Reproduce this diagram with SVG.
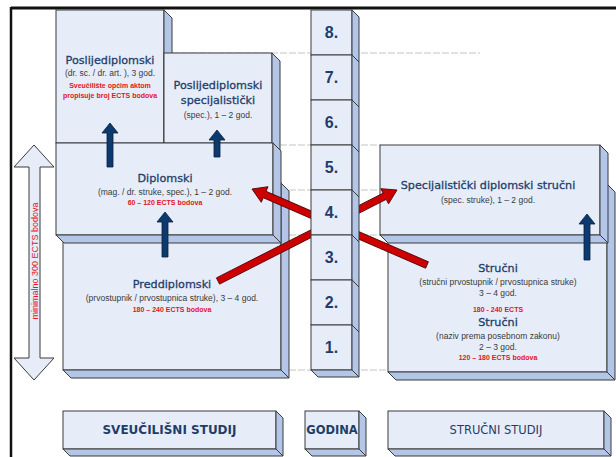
<svg xmlns="http://www.w3.org/2000/svg" width="616" height="457" viewBox="0 0 616 457">
<style>
.face{fill:#e6edf8;stroke:#3a3a3a;stroke-width:1}
.side{fill:#b3c6e7;stroke:#3a3a3a;stroke-width:1}
.grid{stroke:#c4c4c4;stroke-width:1;stroke-dasharray:7 2;fill:none}
.t{font-family:"DejaVu Sans",Verdana,sans-serif;font-size:11.2px;fill:#1f3d6b;stroke:#1f3d6b;stroke-width:0.3;text-anchor:middle}
.s{font-family:"Liberation Sans",Arial,sans-serif;font-size:8.5px;fill:#3a3a3a;text-anchor:middle}
.r{font-family:"Liberation Sans",Arial,sans-serif;font-size:7px;font-weight:bold;fill:#e3141c;text-anchor:middle}
.n{font-family:"Liberation Sans",Arial,sans-serif;font-size:16px;font-weight:bold;fill:#1f3d6b;text-anchor:middle}
.b{font-family:"DejaVu Sans",Verdana,sans-serif;fill:#1f3d6b;text-anchor:middle}
.nav{fill:#0d3a6e;stroke:#061f3d;stroke-width:0.8}
.red{fill:#cc0000;stroke:#4a0000;stroke-width:0.8}
</style>

<g id="frame">
<line x1="11" y1="8" x2="616" y2="8" stroke="#111" stroke-width="3"/>
<line x1="11" y1="7" x2="11" y2="457" stroke="#111" stroke-width="2.5"/>
<line class="grid" x1="172" y1="53" x2="480" y2="53"/>
<line class="grid" x1="280" y1="145" x2="380" y2="145"/>
<line class="grid" x1="289" y1="190" x2="380" y2="190"/>
<line class="grid" x1="289" y1="235" x2="380" y2="235"/>
<line class="grid" x1="289" y1="370" x2="388" y2="370"/>
</g>

<g id="preddiplomski">
<rect class="face" x="63" y="183" width="218" height="187"/>
<polygon class="side" points="281,183 289,191 289,378 281,370"/>
<polygon class="side" points="63,370 281,370 289,378 71,378"/>
<text class="t" x="172" y="288">Preddiplomski</text>
<text class="s" x="172" y="301">(prvostupnik / prvostupnica struke), 3 – 4 god.</text>
<text class="r" x="172" y="312">180 – 240 ECTS bodova</text>
</g>

<g id="strucni">
<rect class="face" x="388" y="184" width="219" height="188"/>
<polygon class="side" points="607,184 615,192 615,380 607,372"/>
<polygon class="side" points="388,372 607,372 615,380 396,380"/>
<text class="t" x="498" y="272">Stručni</text>
<text class="s" x="498" y="285">(stručni prvostupnik / prvostupnica struke)</text>
<text class="s" x="498" y="296">3 – 4 god.</text>
<text class="r" x="498" y="312">180 - 240 ECTS</text>
<text class="t" x="498" y="326">Stručni</text>
<text class="s" x="498" y="339">(naziv prema posebnom zakonu)</text>
<text class="s" x="498" y="350">2 – 3 god.</text>
<text class="r" x="498" y="360">120 – 180 ECTS bodova</text>
</g>

<g id="poslijediplomski">
<rect class="face" x="56" y="10" width="108" height="133"/>
<polygon class="side" points="164,10 172,18 172,151 164,143"/>
<text class="t" x="110" y="64">Poslijediplomski</text>
<text class="s" x="110" y="76">(dr. sc. / dr. art. ), 3 god.</text>
<text class="r" x="110" y="88">Sveučilište općim aktom</text>
<text class="r" x="110" y="98">propisuje broj ECTS bodova</text>
</g>

<g id="specijalisticki">
<rect class="face" x="164" y="53" width="108" height="90"/>
<polygon class="side" points="272,53 280,61 280,151 272,143"/>
<text class="t" x="218" y="89">Poslijediplomski</text>
<text class="t" x="218" y="104">specijalistički</text>
<text class="s" x="218" y="118">(spec.), 1 – 2 god.</text>
</g>

<g id="diplomski">
<rect class="face" x="56" y="143" width="217" height="92"/>
<polygon class="side" points="273,143 281,151 281,243 273,235"/>
<polygon class="side" points="56,235 273,235 281,243 64,243"/>
<text class="t" x="165" y="182">Diplomski</text>
<text class="s" x="165" y="195">(mag. / dr. struke, spec.), 1 – 2 god.</text>
<text class="r" x="165" y="205">60 – 120 ECTS bodova</text>
</g>

<g id="specijalisticki-strucni">
<rect class="face" x="380" y="145" width="220" height="90"/>
<polygon class="side" points="600,145 608,153 608,243 600,235"/>
<polygon class="side" points="380,235 600,235 608,243 388,243"/>
<text class="t" x="488" y="189">Specijalistički diplomski stručni</text>
<text class="s" x="488" y="203">(spec. struke), 1 – 2 god.</text>
</g>

<g id="connectors">
<polygon class="red" transform="translate(218,281) rotate(-26.95)" points="0,-3.5 187,-3.5 187,-8.5 200.8,0 187,8.5 187,3.5 0,3.5"/>
<polygon class="red" transform="translate(427,265) rotate(-156.53)" points="0,-3.5 177,-3.5 177,-8.5 190.8,0 177,8.5 177,3.5 0,3.5"/>
<polygon class="nav" points="110,123 118,133 113,133 113,167 107,167 107,133 102,133"/>
<polygon class="nav" points="217,130 225,140 220,140 220,157 214,157 214,140 209,140"/>
<polygon class="nav" points="165,212 173,222 168,222 168,257 162,257 162,222 157,222"/>
<polygon class="nav" points="587,214 595,224 590,224 590,260 584,260 584,224 579,224"/>
</g>

<g id="godine">
<rect class="face" x="311" y="10" width="41" height="45"/>
<polygon class="side" points="352,10 359,17 359,62 352,55"/>
<rect class="face" x="311" y="55" width="41" height="45"/>
<polygon class="side" points="352,55 359,62 359,107 352,100"/>
<rect class="face" x="311" y="100" width="41" height="45"/>
<polygon class="side" points="352,100 359,107 359,152 352,145"/>
<rect class="face" x="311" y="145" width="41" height="45"/>
<polygon class="side" points="352,145 359,152 359,197 352,190"/>
<rect class="face" x="311" y="190" width="41" height="45"/>
<polygon class="side" points="352,190 359,197 359,242 352,235"/>
<rect class="face" x="311" y="235" width="41" height="45"/>
<polygon class="side" points="352,235 359,242 359,287 352,280"/>
<rect class="face" x="311" y="280" width="41" height="45"/>
<polygon class="side" points="352,280 359,287 359,332 352,325"/>
<rect class="face" x="311" y="325" width="41" height="45"/>
<polygon class="side" points="352,325 359,332 359,377 352,370"/>
<polygon class="side" points="311,370 352,370 359,377 318,377"/>
<text class="n" x="331.5" y="38">8.</text>
<text class="n" x="331.5" y="83">7.</text>
<text class="n" x="331.5" y="128">6.</text>
<text class="n" x="331.5" y="173">5.</text>
<text class="n" x="331.5" y="218">4.</text>
<text class="n" x="331.5" y="263">3.</text>
<text class="n" x="331.5" y="308">2.</text>
<text class="n" x="331.5" y="353">1.</text>
</g>

<g id="minimalno">
<polygon class="face" points="34,145 54,167 40,167 40,358 54,358 34,380 14,358 29,358 29,167 14,167"/>
<text transform="translate(38,261) rotate(-90)" font-family="Liberation Sans, Arial, sans-serif" font-size="9" fill="#e3141c" text-anchor="middle">minimalno 300 ECTS bodova</text>
</g>

<g id="sveucilisni-studij">
<rect class="face" x="63" y="411" width="213" height="38"/>
<polygon class="side" points="276,411 283,418 283,456 276,449"/>
<polygon class="side" points="63,449 276,449 283,456 70,456"/>
<text class="b" x="169.5" y="434" font-size="12" font-weight="bold">SVEUČILIŠNI STUDIJ</text>
</g>

<g id="godina">
<rect class="face" x="305" y="411" width="54" height="38"/>
<polygon class="side" points="359,411 366,418 366,456 359,449"/>
<polygon class="side" points="305,449 359,449 366,456 312,456"/>
<text class="b" x="332" y="434" font-size="11.5" font-weight="bold">GODINA</text>
</g>

<g id="strucni-studij">
<rect class="face" x="388" y="411" width="216" height="38"/>
<polygon class="side" points="604,411 611,418 611,456 604,449"/>
<polygon class="side" points="388,449 604,449 611,456 395,456"/>
<text class="b" x="496" y="434" font-size="11.5">STRUČNI STUDIJ</text>
</g>
</svg>
